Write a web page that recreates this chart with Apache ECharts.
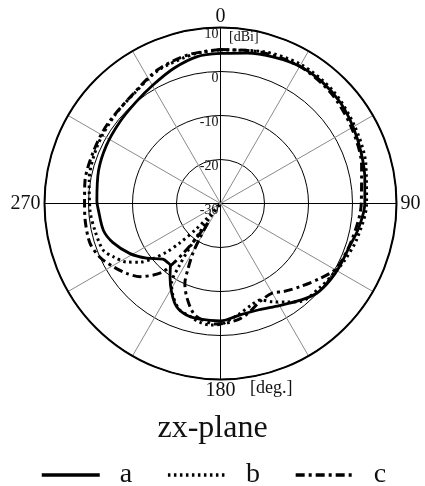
<!DOCTYPE html>
<html>
<head>
<meta charset="utf-8">
<script src="https://cdn.jsdelivr.net/npm/echarts@6/dist/echarts.min.js"></script>
<style>
  html, body { margin: 0; padding: 0; background: #fff; }
  #chart { width: 425px; height: 486px; }
</style>
</head>
<body>
<div id="chart"></div>
<script>
// gain in dBi against angle in degrees (0 = top, clockwise)
var radiusTicks = [-30, -20, -10, 0, 10];
var angleLabels = [0, 90, 180, 270];
var seriesNames = ['a', 'b', 'c'];

var angleA = [0, 10, 20, 30, 40, 50, 60, 70, 80, 90, 100, 110, 118, 125, 133, 140, 150, 160, 170, 180,
  190, 197, 203, 208.5, 214.6, 219, 222, 226, 233.5, 241, 250, 257, 267, 271, 285, 297, 309, 320, 330, 341, 351, 360];
var gainA = [4.1, 4.7, 5.4, 6.0, 6.0, 5.6, 4.8, 4.0, 3.3, 2.8, 1.9, 0.8, 0.6, 0.4, -0.1, -1.4, -3.2, -4.3, -4.3, -3.3,
  -3.3, -3.5, -4.5, -6.8, -9.8, -11.9, -12.0, -11.8, -9.1, -6.5, -4.0, -2.7, -2.2, -1.9, -1.3, -0.9, -0.55, 0.0, 0.95, 2.5, 3.8, 4.1];

var angleB = [0, 15, 30, 45, 60, 75, 90, 105, 115, 120, 130, 141, 146, 152, 157.7, 163, 170, 175, 180, 185,
  190, 195, 201, 207, 211.5, 213.5, 215, 216, 217, 219.5, 222, 223.5, 226, 228, 231, 234, 238, 243.6, 248.4,
  258, 267, 280, 295, 310, 322, 335, 350, 360];
var gainB = [4.9, 5.8, 6.5, 6.2, 5.2, 4.2, 3.2, 2.0, 1.0, 0.4, -0.4, -1.3, -3.0, -4.7, -6.3, -5.9, -4.6, -3.6, -2.5, -2.3,
  -2.6, -3.4, -4.1, -6.3, -8.7, -13, -18, -22, -26, -30, -26.5, -22, -17, -13.5, -10, -7.3, -4.9, -2.8, -1.3,
  -0.8, -0.3, 0.3, 0.9, 1.3, 1.8, 3.4, 4.5, 4.9];

var angleC = [0, 15, 30, 45, 60, 75, 90, 105, 119, 127, 136, 144.5, 150, 158, 165, 170, 176, 182, 185, 193,
  199.5, 204, 206.5, 209, 211, 213.5, 215, 216.8, 218.3, 220, 223.2, 227.7, 233.3, 239.5, 246, 253, 262, 270, 279,
  292, 305, 322, 335, 348, 360];
var gainC = [5.0, 5.6, 6.0, 5.5, 4.4, 3.2, 2.0, 1.0, 0.2, -1.7, -3.8, -5.4, -6.5, -6.0, -4.5, -3.5, -2.9, -2.6, -2.7, -4.0,
  -7.2, -10.1, -13.5, -17, -21, -25, -20, -15.9, -12.7, -9.8, -7.7, -5.3, -3.4, -1.7, 0.0, 1.0, 1.0, 0.9, 1.2,
  1.2, 1.4, 1.9, 3.6, 4.6, 5.0];

function pairs(gain, angle) {
  var out = [];
  for (var i = 0; i < gain.length; i++) out.push([gain[i], angle[i]]);
  return out;
}

var serif = 'Liberation Serif';
var chart = echarts.init(document.getElementById('chart'));

chart.setOption({
  animation: false,
  color: ['#000', '#000', '#000'],
  polar: {
    center: [220.5, 203.5],
    radius: 176
  },
  angleAxis: {
    type: 'value',
    min: 0,
    max: 360,
    interval: 30,
    startAngle: 90,
    clockwise: true,
    axisLine: { lineStyle: { color: '#000', width: 2 } },
    axisTick: { show: false },
    axisLabel: {
      margin: 4,
      color: '#111',
      fontFamily: serif,
      fontSize: 20,
      lineHeight: 14,
      formatter: function(v) {
        return angleLabels.indexOf(v) >= 0 ? String(v) : '';
      }
    },
    splitLine: {
      lineStyle: { color: ['#000', '#8a8a8a', '#8a8a8a'], width: 1 }
    }
  },
  radiusAxis: {
    type: 'value',
    min: radiusTicks[0],
    max: radiusTicks[radiusTicks.length - 1],
    interval: 10,
    axisLine: { show: false },
    axisTick: { show: false },
    axisLabel: {
      margin: 2,
      color: '#111',
      fontFamily: serif,
      fontSize: 14,
      align: 'right',
      verticalAlign: 'top'
    },
    splitLine: { lineStyle: { color: '#000', width: 1 } }
  },
  legend: {
    data: seriesNames,
    left: 40,
    top: 461,
    padding: 0,
    itemWidth: 58,
    itemHeight: 14,
    itemGap: 34,
    itemStyle: { color: 'rgba(0,0,0,0)', borderWidth: 0 },
    lineStyle: { width: 3.5 },
    textStyle: {
      fontFamily: serif,
      fontSize: 28,
      color: '#111',
      padding: [0, 0, 0, 15]
    }
  },
  graphic: [
    { type: 'text', left: 229, top: 30, style: { text: '[dBi]', font: '14px "Liberation Serif"', fill: '#111' } },
    { type: 'text', left: 250, top: 379, style: { text: '[deg.]', font: '18px "Liberation Serif"', fill: '#111' } },
    { type: 'text', left: 'center', top: 413, style: { text: 'zx-plane', font: '32px "Liberation Serif"', fill: '#111' } }
  ],
  series: [
    {
      name: 'a', type: 'line', coordinateSystem: 'polar', symbol: 'none', smooth: 0.3,
      lineStyle: { color: '#000', width: 2.8 },
      data: pairs(gainA, angleA)
    },
    {
      name: 'b', type: 'line', coordinateSystem: 'polar', symbol: 'none', smooth: 0.3,
      lineStyle: { color: '#000', width: 3, type: [2.5, 3.5] },
      data: pairs(gainB, angleB)
    },
    {
      name: 'c', type: 'line', coordinateSystem: 'polar', symbol: 'none', smooth: 0.3,
      lineStyle: { color: '#000', width: 3, type: [9, 4, 3, 4] },
      data: pairs(gainC, angleC)
    }
  ]
});
</script>
</body>
</html>
